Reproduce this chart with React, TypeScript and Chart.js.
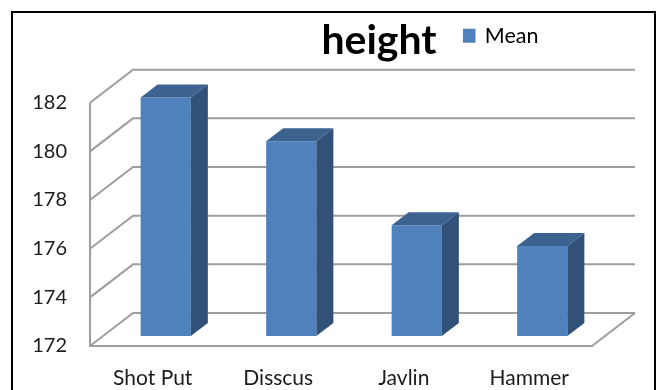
import React, { useEffect, useRef } from "react";
import { Chart, registerables } from "chart.js";

Chart.register(...registerables);

const categories = ["Shot Put", "Disscus", "Javlin", "Hammer"];
const meanValues = [181.8, 180, 176.55, 175.7];
const seriesName = "Mean";
const chartTitle = "height";
const axisMin = 172;
const axisMax = 182;
const axisStep = 2;

const FACE = "#4f81bd";
const SIDE = "#325178";
const TOP = "#3c6290";
const WALL = "#9e9e9e";
const TEXT = "#1c1c1c";
const FONT = "Lato";

// Perspective offsets: box depth of the plot, and the bars' depth and seat inside it.
const WALL_DX = 43;
const WALL_DY = -33;
const BAR_DX = 17;
const BAR_DY = -13;
const SEAT_DX = 13;
const SEAT_DY = -10;

const wallsPlugin = {
  id: "walls",
  beforeDatasetsDraw(chart: any) {
    const { ctx, chartArea, scales } = chart;
    const { left, right, top, bottom } = chartArea;
    ctx.save();
    ctx.strokeStyle = WALL;
    ctx.lineWidth = 2;
    ctx.lineJoin = "miter";
    // back wall rules with their slanted side-wall runs
    scales.y.ticks.forEach((tick: any) => {
      const y = scales.y.getPixelForValue(tick.value);
      ctx.beginPath();
      ctx.moveTo(left, y);
      ctx.lineTo(left + WALL_DX, y + WALL_DY);
      ctx.lineTo(right + WALL_DX, y + WALL_DY);
      ctx.stroke();
    });
    // front edge of the side wall and floor
    ctx.beginPath();
    ctx.moveTo(left, top);
    ctx.lineTo(left, bottom);
    ctx.lineTo(right, bottom);
    ctx.lineTo(right + WALL_DX, bottom + WALL_DY);
    ctx.stroke();
    ctx.restore();

    // the bar faces and their extrusion share this shifted origin
    ctx.save();
    ctx.translate(SEAT_DX, SEAT_DY);
  },
  afterDatasetsDraw(chart: any) {
    const { ctx } = chart;
    chart.getDatasetMeta(0).data.forEach((bar: any) => {
      const l = bar.x - bar.width / 2;
      const r = bar.x + bar.width / 2;
      ctx.fillStyle = SIDE;
      ctx.beginPath();
      ctx.moveTo(r, bar.base);
      ctx.lineTo(r + BAR_DX, bar.base + BAR_DY);
      ctx.lineTo(r + BAR_DX, bar.y + BAR_DY);
      ctx.lineTo(r, bar.y);
      ctx.closePath();
      ctx.fill();
      ctx.fillStyle = TOP;
      ctx.beginPath();
      ctx.moveTo(l, bar.y);
      ctx.lineTo(l + BAR_DX, bar.y + BAR_DY);
      ctx.lineTo(r + BAR_DX, bar.y + BAR_DY);
      ctx.lineTo(r, bar.y);
      ctx.closePath();
      ctx.fill();
    });
    ctx.restore();
  },
  // Title and legend share one row, to the right of the plot's centre.
  afterLayout(chart: any) {
    const title = chart.titleBlock;
    const shift = 379 - (title.left + title.right) / 2;
    title.left += shift;
    title.right += shift;
    title.top = 16;
    const legend = chart.legend;
    legend.left = 463;
    legend.right = 463 + legend.width;
    legend.top = 25;
    legend.bottom = 25 + legend.height;
  },
};

export default function App() {
  const ref = useRef<HTMLCanvasElement>(null);

  useEffect(() => {
    document.body.style.margin = "0";
    document.body.style.background = "#ffffff";
    const chart = new Chart(ref.current!, {
      type: "bar",
      data: {
        labels: categories,
        datasets: [
          {
            label: seriesName,
            data: meanValues,
            base: axisMin,
            backgroundColor: FACE,
            borderWidth: 0,
            barPercentage: 0.4,
            categoryPercentage: 1,
            clip: false,
          },
        ],
      },
      options: {
        responsive: false,
        animation: false,
        layout: { padding: { left: 0, right: 67, top: 0, bottom: 0 } },
        plugins: {
          tooltip: { enabled: false },
          title: {
            display: true,
            text: chartTitle,
            color: "#000000",
            font: { family: FONT, size: 41, weight: "bold" },
            padding: { top: 0, bottom: 22 },
          },
          legend: {
            display: true,
            position: "top",
            align: "start",
            labels: {
              color: TEXT,
              font: { family: FONT, size: 21.5 },
              boxWidth: 11,
              boxHeight: 11,
              padding: 0,
              generateLabels: () => [
                {
                  text: seriesName,
                  fillStyle: FACE,
                  strokeStyle: FACE,
                  lineWidth: 3,
                  datasetIndex: 0,
                },
              ],
            },
          },
        },
        scales: {
          x: {
            grid: { display: false },
            border: { display: false },
            ticks: {
              color: TEXT,
              font: { family: FONT, size: 21 },
              padding: 12,
              maxRotation: 0,
            },
            afterFit(scale: any) {
              scale.height = 44;
            },
          },
          y: {
            min: axisMin,
            max: axisMax,
            grid: { display: false, drawTicks: false },
            border: { display: false },
            ticks: {
              stepSize: axisStep,
              color: TEXT,
              font: { family: FONT, size: 20 },
              padding: 23,
            },
            afterFit(scale: any) {
              scale.width = 90;
            },
          },
        },
      },
      plugins: [wallsPlugin],
    } as any);
    return () => chart.destroy();
  }, []);

  return (
    <div
      style={{
        position: "fixed",
        left: 0,
        top: 0,
        width: 659,
        height: 390,
        overflow: "hidden",
        background: "#ffffff",
      }}
    >
      <canvas ref={ref} width={659} height={390} style={{ display: "block" }} />
      <div
        style={{
          position: "absolute",
          left: 11,
          top: 11,
          width: 645,
          height: 400,
          boxSizing: "border-box",
          border: "2px solid #000000",
          pointerEvents: "none",
        }}
      />
    </div>
  );
}
